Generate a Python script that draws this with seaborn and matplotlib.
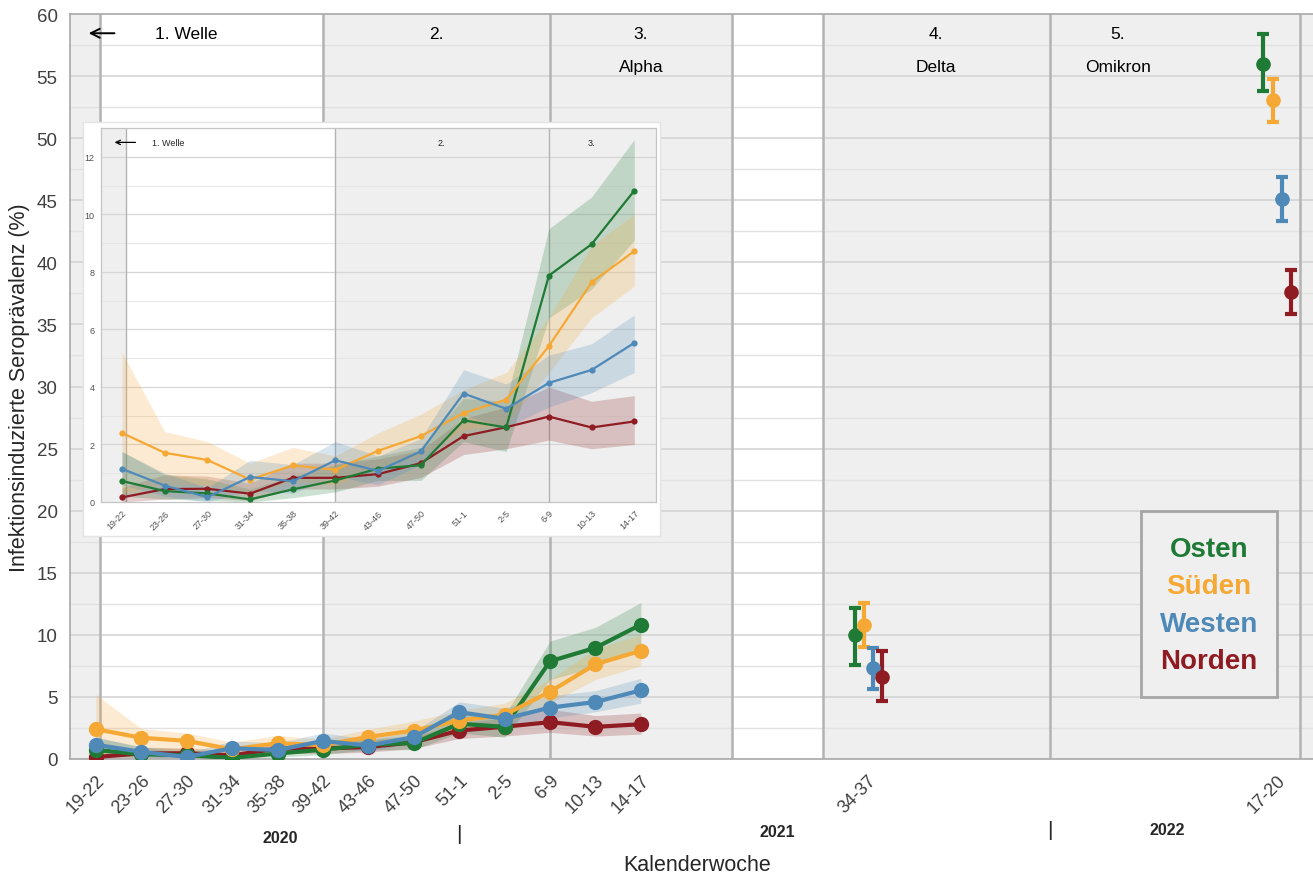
import numpy as np
import pandas as pd
import matplotlib
matplotlib.use("Agg")
import matplotlib.pyplot as plt
from matplotlib.patches import Rectangle
import seaborn as sns

# ---------------- data ----------------
weeks = ["19-22", "23-26", "27-30", "31-34", "35-38", "39-42", "43-46",
         "47-50", "51-1", "2-5", "6-9", "10-13", "14-17"]
regions = ["Osten", "Süden", "Westen", "Norden"]
colors = {"Osten": "#1f7a35", "Süden": "#f5a834", "Westen": "#4e89b8", "Norden": "#8e1c22"}

osten = [0.73, 0.38, 0.30, 0.09, 0.44, 0.75, 1.16, 1.28, 2.84, 2.59, 7.87, 8.96, 10.82]
osten_lo = [0.20, 0.10, 0.05, 0.00, 0.15, 0.35, 0.75, 0.75, 2.10, 1.75, 6.40, 7.40, 9.10]
osten_hi = [1.75, 0.95, 0.80, 0.45, 0.90, 1.30, 1.60, 1.90, 3.60, 3.50, 9.50, 10.60, 12.60]

sueden = [2.40, 1.71, 1.46, 0.78, 1.27, 1.12, 1.78, 2.29, 3.09, 3.56, 5.42, 7.63, 8.72]
sueden_lo = [0.30, 0.60, 0.60, 0.30, 0.70, 0.60, 1.20, 1.60, 2.50, 2.70, 4.50, 6.40, 7.50]
sueden_hi = [5.20, 2.45, 2.10, 1.35, 1.90, 1.60, 2.40, 3.05, 3.90, 4.50, 6.40, 8.90, 10.00]

westen = [1.15, 0.57, 0.17, 0.87, 0.72, 1.45, 1.08, 1.76, 3.77, 3.24, 4.14, 4.59, 5.53]
westen_lo = [0.60, 0.20, 0.00, 0.40, 0.30, 0.90, 0.60, 1.30, 3.00, 2.60, 3.30, 3.80, 4.50]
westen_hi = [1.75, 1.00, 0.50, 1.45, 1.30, 2.10, 1.60, 2.20, 4.60, 4.10, 5.10, 5.50, 6.50]

norden = [0.16, 0.45, 0.46, 0.29, 0.84, 0.84, 0.97, 1.35, 2.29, 2.60, 2.97, 2.59, 2.80]
norden_lo = [0.00, 0.10, 0.15, 0.05, 0.45, 0.45, 0.55, 0.85, 1.65, 1.85, 2.15, 1.85, 2.00]
norden_hi = [0.50, 0.95, 0.90, 0.65, 1.35, 1.35, 1.50, 1.80, 2.90, 3.30, 4.00, 3.50, 3.70]

# later survey rounds (point estimate, lower, upper)
delta_week = "34-37"
delta_val = [10.0, 10.8, 7.3, 6.6]
delta_lo = [7.6, 9.0, 5.6, 4.7]
delta_hi = [12.2, 12.6, 8.9, 8.7]

omikron_week = "17-20"
omikron_val = [56.0, 53.1, 45.1, 37.6]
omikron_lo = [53.8, 51.3, 43.3, 35.8]
omikron_hi = [58.4, 54.8, 46.9, 39.4]

tick_labels = weeks + ["", "", "", "", delta_week] + [""] * 8 + [omikron_week]

series = {
    "Osten": (osten, osten_lo, osten_hi),
    "Süden": (sueden, sueden_lo, sueden_hi),
    "Westen": (westen, westen_lo, westen_hi),
    "Norden": (norden, norden_lo, norden_hi),
}

rows = []
for reg, (v, lo, hi) in series.items():
    for i, w in enumerate(weeks):
        rows.append({"pos": i, "week": w, "region": reg, "value": v[i], "lo": lo[i], "hi": hi[i]})
df = pd.DataFrame(rows)

draw_order = ["Norden", "Osten", "Süden", "Westen"]

# ---------------- style ----------------
sns.set_theme(style="white")
plt.rcParams["font.family"] = ["Liberation Sans", "DejaVu Sans"]

BG = "#eeefee"
GRID = "#d4d4d4"
GRID_MINOR = "#e2e2e2"
VLINE = "#b3b3b3"

W, H = 1313, 879
fig = plt.figure(figsize=(W / 100, H / 100), dpi=100)
fig.patch.set_facecolor("white")

# ---------------- main axes ----------------
ax = fig.add_axes([70 / W, 1 - 760 / H, 1 - 70 / W, (760 - 15) / H])
ax.set_zorder(0)
ax.set_facecolor(BG)
ax.set_xlim(-0.57, 26.8)
ax.set_ylim(0, 60)

ax.axvspan(0.1, 5, color="white", zorder=0, lw=0)
ax.axvspan(14, 16, color="white", zorder=0, lw=0)
for y in np.arange(2.5, 60, 5):
    ax.axhline(y, color=GRID_MINOR, lw=1.0, zorder=0.5)
for y in np.arange(5, 60, 5):
    ax.axhline(y, color=GRID, lw=1.2, zorder=0.5)
for x in [0.1, 5, 10, 14, 16, 21, 26.52]:
    ax.axvline(x, color=VLINE, lw=1.8, zorder=0.6)

for reg in draw_order:
    sub = df[df.region == reg]
    ax.fill_between(sub.pos, sub.lo, sub.hi, color=colors[reg], alpha=0.22, lw=0, zorder=1)
sns.lineplot(data=df, x="pos", y="value", hue="region", hue_order=draw_order,
             palette=colors, marker="o", markersize=11, markeredgewidth=0,
             linewidth=3.0, legend=False, ax=ax, zorder=3)

offsets = [-0.29, -0.09, 0.11, 0.31]
for k, reg in enumerate(regions):
    for pos, vals, los, his in [(17, delta_val, delta_lo, delta_hi),
                                (26, omikron_val, omikron_lo, omikron_hi)]:
        ax.errorbar(pos + offsets[k], vals[k],
                    yerr=[[vals[k] - los[k]], [his[k] - vals[k]]],
                    fmt="o", color=colors[reg], ecolor=colors[reg], ms=9.5,
                    elinewidth=3, capsize=4, capthick=3, zorder=4)

ax.set_xticks(range(27))
ax.set_xticklabels(tick_labels, rotation=45, ha="right", rotation_mode="anchor",
                   fontsize=13, color="#404040")
ax.set_yticks(range(0, 61, 5))
ax.set_yticklabels([str(v) for v in range(0, 61, 5)], fontsize=13.5, color="#404040")
ax.tick_params(axis="x", direction="out", length=6, width=1, color="#9a9a9a", pad=3)
ax.tick_params(axis="y", direction="out", length=5, width=1, color="#9a9a9a", pad=4)
ax.set_xlabel("")
ax.set_ylabel("")
for side in ["left", "bottom", "top"]:
    ax.spines[side].set_color("#a8a8a8")
    ax.spines[side].set_linewidth(1.2)
ax.spines["right"].set_visible(False)

# phase labels
ax.annotate("", xy=(-0.22, 58.45), xytext=(0.47, 58.45),
            arrowprops=dict(arrowstyle="->", lw=1.4, color="black", mutation_scale=16))
txt_kw = dict(ha="center", va="center", fontsize=12.5, color="black")
ax.text(2.0, 58.45, "1. Welle", **txt_kw)
ax.text(7.5, 58.45, "2.", **txt_kw)
ax.text(12.0, 58.45, "3.", **txt_kw)
ax.text(12.0, 55.8, "Alpha", **txt_kw)
ax.text(18.5, 58.45, "4.", **txt_kw)
ax.text(18.5, 55.8, "Delta", **txt_kw)
ax.text(22.5, 58.45, "5.", **txt_kw)
ax.text(22.5, 55.8, "Omikron", **txt_kw)

# year labels
tr = ax.get_xaxis_transform()
ax.text(4.05, -0.105, "2020", transform=tr, ha="center", va="center", fontsize=11.5, fontweight="bold")
ax.text(8.0, -0.100, "|", transform=tr, ha="center", va="center", fontsize=15)
ax.text(15.0, -0.097, "2021", transform=tr, ha="center", va="center", fontsize=11.5, fontweight="bold")
ax.text(21.0, -0.094, "|", transform=tr, ha="center", va="center", fontsize=15)
ax.text(23.6, -0.094, "2022", transform=tr, ha="center", va="center", fontsize=11.5, fontweight="bold")

fig.text(697 / W, 1 - 866 / H, "Kalenderwoche", ha="center", va="center", fontsize=15.5)
fig.text(20 / W, 1 - 388 / H, "Infektionsinduzierte Seroprävalenz (%)", ha="center",
         va="center", rotation=90, fontsize=15.5)

# legend box
lx0, lx1, ly0, ly1 = 1141, 1277, 512, 698
fig.add_artist(Rectangle((lx0 / W, 1 - ly1 / H), (lx1 - lx0) / W, (ly1 - ly0) / H,
                         transform=fig.transFigure, facecolor=BG, edgecolor="#a6a6a6",
                         lw=2, zorder=5))
for reg, yc in zip(regions, [550, 587, 625, 662]):
    fig.text(1209 / W, 1 - yc / H, reg, color=colors[reg], fontsize=20, fontweight="bold",
             ha="center", va="center", zorder=6)

# ---------------- inset ----------------
fig.add_artist(Rectangle((83 / W, 1 - 537 / H), (660 - 83) / W, (537 - 123) / H,
                         transform=fig.transFigure, facecolor="white",
                         edgecolor="#e4e4e4", lw=1, zorder=1))

ax2 = fig.add_axes([100.7 / W, 1 - 503 / H, (655.6 - 100.7) / W, (503 - 129) / H])
ax2.set_zorder(2)
ax2.set_facecolor(BG)
ax2.set_xlim(-0.5, 12.5)
ax2.set_ylim(0, 13)
ax2.axvspan(0.1, 5, color="white", zorder=0, lw=0)
for y in range(1, 13, 2):
    ax2.axhline(y, color="#e6e6e6", lw=0.7, zorder=0.5)
for y in range(2, 13, 2):
    ax2.axhline(y, color="#d6d6d6", lw=0.9, zorder=0.5)
for x in [0.1, 5, 10]:
    ax2.axvline(x, color=VLINE, lw=1.0, zorder=0.6)

for reg in draw_order:
    sub = df[df.region == reg]
    ax2.fill_between(sub.pos, sub.lo, sub.hi, color=colors[reg], alpha=0.22, lw=0, zorder=1)
sns.lineplot(data=df, x="pos", y="value", hue="region", hue_order=draw_order,
             palette=colors, marker="o", markersize=4.5, markeredgewidth=0,
             linewidth=1.6, legend=False, ax=ax2, zorder=3)

ax2.set_xticks(range(13))
ax2.set_xticklabels(weeks, rotation=45, ha="right", rotation_mode="anchor",
                    fontsize=6.5, color="#505050")
ax2.set_yticks(range(0, 13, 2))
ax2.set_yticklabels([str(v) for v in range(0, 13, 2)], fontsize=6.5, color="#505050")
ax2.tick_params(axis="both", direction="out", length=2.5, width=0.6, color="#a0a0a0", pad=2)
ax2.set_xlabel("")
ax2.set_ylabel("")
for side in ax2.spines:
    ax2.spines[side].set_color("#c4c4c4")
    ax2.spines[side].set_linewidth(0.9)

ax2.annotate("", xy=(-0.24, 12.5), xytext=(0.38, 12.5),
             arrowprops=dict(arrowstyle="->", lw=0.9, color="black", mutation_scale=8))
ax2.text(1.07, 12.5, "1. Welle", ha="center", va="center", fontsize=6.5)
ax2.text(7.48, 12.5, "2.", ha="center", va="center", fontsize=6.5)
ax2.text(10.99, 12.5, "3.", ha="center", va="center", fontsize=6.5)

fig.savefig("out.png", dpi=100, facecolor="white")
